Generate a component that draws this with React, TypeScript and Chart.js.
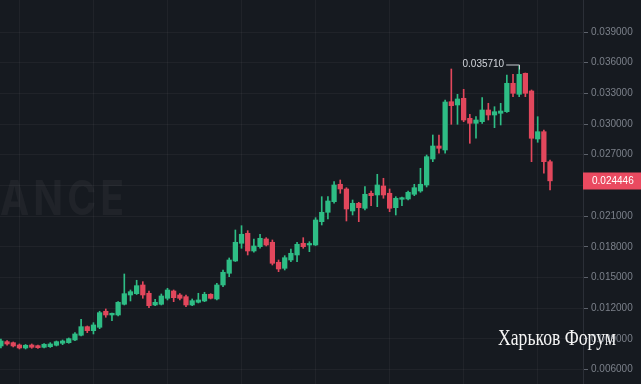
import { useEffect, useRef } from "react";
import { Chart, registerables } from "chart.js";

Chart.register(...registerables);

const opens = [
  0.008298, 0.008719, 0.008621, 0.008396, 0.008103, 0.008396, 0.008328, 0.008171, 0.00823, 0.008367,
  0.008562, 0.008621, 0.008885, 0.009345, 0.010186, 0.009794, 0.010127, 0.011692, 0.01133, 0.01133,
  0.012376, 0.013285, 0.013412, 0.014263, 0.013451, 0.012307, 0.012376, 0.012962, 0.013676, 0.013285,
  0.013119, 0.012307, 0.012571, 0.012698, 0.013353, 0.012894, 0.014263, 0.015407, 0.016609, 0.01834,
  0.019318, 0.017587, 0.018008, 0.018761, 0.018438, 0.016482, 0.015895, 0.016707, 0.017196, 0.01834,
  0.018174, 0.018174, 0.020452, 0.021371, 0.022408, 0.02411, 0.02365, 0.021499, 0.022251, 0.021763,
  0.02323, 0.023064, 0.023943, 0.02323, 0.021821, 0.022642, 0.022672, 0.023132, 0.023455, 0.024041,
  0.026583, 0.027854, 0.027463, 0.032186, 0.031863, 0.032518, 0.030562, 0.030073, 0.03023, 0.031374,
  0.030885, 0.031051, 0.031208, 0.033985, 0.032909, 0.034963, 0.033232, 0.028539, 0.029252, 0.026319,
];
const highs = [
  0.008983, 0.008817, 0.008689, 0.008494, 0.008445, 0.008494, 0.008396, 0.008543, 0.008621, 0.008787,
  0.008885, 0.009081, 0.009599, 0.010909, 0.010254, 0.010577, 0.011692, 0.011917, 0.011525, 0.012649,
  0.015339, 0.013774, 0.014723, 0.014586, 0.013676, 0.012864, 0.013383, 0.01394, 0.013774, 0.013412,
  0.013285, 0.012894, 0.013451, 0.013549, 0.013412, 0.014429, 0.01573, 0.016903, 0.019641, 0.020061,
  0.019572, 0.018761, 0.01922, 0.018888, 0.018663, 0.016707, 0.017128, 0.017783, 0.018438, 0.018888,
  0.018497, 0.020843, 0.022897, 0.022897, 0.024364, 0.02453, 0.023777, 0.022574, 0.022349, 0.023875,
  0.023455, 0.025087, 0.024696, 0.02365, 0.022897, 0.02285, 0.023455, 0.02411, 0.025674, 0.026974,
  0.02893, 0.02893, 0.032352, 0.035383, 0.032909, 0.033398, 0.030953, 0.030719, 0.032577, 0.03203,
  0.031697, 0.03203, 0.034797, 0.034866, 0.03571, 0.034992, 0.03333, 0.030719, 0.029419, 0.026485,
];
const lows = [
  0.008103, 0.008367, 0.0082, 0.008005, 0.008005, 0.008073, 0.008054, 0.008103, 0.008152, 0.008298,
  0.008425, 0.008562, 0.008817, 0.009276, 0.009599, 0.009472, 0.00999, 0.011105, 0.010773, 0.011232,
  0.012307, 0.012698, 0.013334, 0.012962, 0.012043, 0.012239, 0.012307, 0.012796, 0.01263, 0.012796,
  0.012141, 0.012239, 0.012503, 0.01263, 0.012894, 0.012796, 0.014097, 0.015075, 0.01656, 0.017851,
  0.017196, 0.01746, 0.017851, 0.018076, 0.016218, 0.015563, 0.01573, 0.016541, 0.016541, 0.017851,
  0.017519, 0.018125, 0.020129, 0.020716, 0.022251, 0.02323, 0.02052, 0.021107, 0.020452, 0.021596,
  0.022016, 0.021919, 0.02274, 0.02143, 0.021107, 0.022016, 0.022574, 0.022995, 0.023328, 0.023845,
  0.026319, 0.02714, 0.02714, 0.029976, 0.029976, 0.03023, 0.028118, 0.028607, 0.030073, 0.030396,
  0.029643, 0.029908, 0.031149, 0.032675, 0.032675, 0.032675, 0.026319, 0.028216, 0.025185, 0.023552,
];
const closes = [
  0.008787, 0.008494, 0.008298, 0.008103, 0.008367, 0.008171, 0.008132, 0.008465, 0.008494, 0.008719,
  0.008787, 0.009012, 0.009472, 0.010186, 0.009794, 0.010352, 0.011555, 0.01133, 0.011496, 0.012571,
  0.013412, 0.013608, 0.014195, 0.013285, 0.012239, 0.012571, 0.013187, 0.013774, 0.013021, 0.012962,
  0.012307, 0.012728, 0.012796, 0.013353, 0.012962, 0.014263, 0.015505, 0.016707, 0.018438, 0.01922,
  0.017587, 0.018076, 0.018829, 0.018174, 0.016384, 0.015827, 0.016932, 0.017362, 0.018243, 0.018008,
  0.018301, 0.020618, 0.021371, 0.022476, 0.024041, 0.02365, 0.021694, 0.022251, 0.021821, 0.023132,
  0.022995, 0.024041, 0.023064, 0.021763, 0.02274, 0.022799, 0.023328, 0.023777, 0.02411, 0.026808,
  0.027854, 0.027629, 0.032156, 0.031795, 0.03245, 0.030396, 0.030073, 0.030396, 0.031374, 0.030885,
  0.031208, 0.031276, 0.033985, 0.033007, 0.034866, 0.033007, 0.028607, 0.029252, 0.026319, 0.024446,
];

const yTicks = [0.006, 0.009, 0.012, 0.015, 0.018, 0.021, 0.024, 0.027, 0.03, 0.033, 0.036, 0.039];
const xGridIdx = [9, 21, 33, 45, 57, 69, 81, 93];
const highLabel = "0.035710";
const watermarkText = "BINANCE";
const forumText = "Харьков Форум";

const BG = "#161a20";
const UP = "#2ebd85";
const DOWN = "#e2475c";

export default function App() {
  const ref = useRef<HTMLCanvasElement | null>(null);

  useEffect(() => {
    const canvas = ref.current;
    if (!canvas) return;
    const idx = closes.map((_, i) => i);
    const colors = idx.map((i) => (closes[i] >= opens[i] ? UP : DOWN));
    const lastPrice = closes[closes.length - 1];
    let hiIdx = 0;
    highs.forEach((h, i) => {
      if (h > highs[hiIdx]) hiIdx = i;
    });

    const bgPlugin = {
      id: "bgPlugin",
      beforeDraw(chart: any) {
        const ctx = chart.ctx;
        ctx.save();
        ctx.fillStyle = BG;
        ctx.fillRect(0, 0, chart.width, chart.height);
        // faint watermark, partly cut at the left edge
        ctx.font = "700 48px Inter";
        (ctx as any).letterSpacing = "5px";
        const wAnce = ctx.measureText("ANCE").width;
        const sx = 128 / wAnce;
        ctx.translate(128, 201);
        ctx.scale(sx, 1);
        ctx.textAlign = "right";
        ctx.textBaseline = "middle";
        ctx.fillStyle = "rgba(255,255,255,0.045)";
        ctx.fillText(watermarkText, 0, 0);
        ctx.restore();
      },
    };

    const overlayPlugin = {
      id: "overlayPlugin",
      afterDraw(chart: any) {
        const ctx = chart.ctx;
        const xs = chart.scales.x;
        const ys = chart.scales.y;
        const area = chart.chartArea;
        ctx.save();
        // last price label
        const py = ys.getPixelForValue(lastPrice);
        ctx.fillStyle = "#ea4a60";
        ctx.fillRect(area.right, Math.round(py) - 8.5, chart.width - area.right, 17);
        ctx.fillStyle = "#ffffff";
        ctx.font = "10px 'Liberation Sans'";
        ctx.textAlign = "left";
        ctx.textBaseline = "middle";
        ctx.fillText(lastPrice.toFixed(6), area.right + 9, Math.round(py) + 0.5);

        // high marker
        const hx = xs.getPixelForValue(hiIdx);
        const hy = ys.getPixelForValue(highs[hiIdx]);
        const ty = Math.round(hy) - 1.5;
        ctx.fillStyle = "#d3d6dc";
        ctx.textAlign = "right";
        ctx.fillText(highLabel, hx - 15, ty);
        ctx.strokeStyle = "#c8cbd1";
        ctx.lineWidth = 1;
        ctx.beginPath();
        ctx.moveTo(hx - 13, ty + 0.5);
        ctx.lineTo(Math.round(hx) + 0.5, ty + 0.5);
        ctx.lineTo(Math.round(hx) + 0.5, ty + 5);
        ctx.stroke();

        // forum watermark
        ctx.font = "24px 'Liberation Serif'";
        ctx.textAlign = "left";
        ctx.textBaseline = "alphabetic";
        const w = ctx.measureText(forumText).width;
        ctx.translate(498, 345);
        ctx.scale(118 / w, 1);
        ctx.fillStyle = "#f4f4f4";
        ctx.fillText(forumText, 0, 0);
        ctx.restore();
      },
    };

    const chart = new Chart(canvas, {
      type: "bar",
      data: {
        datasets: [
          {
            data: idx.map((i) => ({ x: i, y: [lows[i], highs[i]] })) as any,
            backgroundColor: colors,
            barThickness: 1,
            grouped: false,
            borderWidth: 0,
            order: 2,
          } as any,
          {
            data: idx.map((i) => ({ x: i, y: [opens[i], closes[i]] })) as any,
            backgroundColor: colors,
            barThickness: 4.6,
            minBarLength: 1.5,
            grouped: false,
            borderWidth: 0,
            order: 1,
          } as any,
        ],
      },
      options: {
        animation: false,
        responsive: false,
        devicePixelRatio: 1,
        layout: { padding: 0 },
        plugins: { legend: { display: false }, tooltip: { enabled: false } },
        scales: {
          x: {
            type: "linear",
            min: -0.146,
            max: 94.343,
            offset: false,
            ticks: { display: false },
            grid: { color: "rgba(255,255,255,0.045)", drawTicks: false },
            border: { display: false },
            afterBuildTicks(scale: any) {
              scale.ticks = xGridIdx.map((v) => ({ value: v }));
            },
            afterFit(scale: any) {
              scale.height = 0;
              scale.paddingLeft = 0;
              scale.paddingRight = 0;
            },
          },
          y: {
            type: "linear",
            position: "right",
            min: 0.00458,
            max: 0.04213,
            ticks: {
              autoSkip: false,
              padding: 3,
              color: "#7b808a",
              font: { family: "'Liberation Sans'", size: 10 },
              callback: (v: any) => Number(v).toFixed(6),
            },
            grid: {
              color: "rgba(255,255,255,0.045)",
              tickColor: "#5d626b",
              tickLength: 5,
            },
            border: { display: true, color: "#2b2f37" },
            afterBuildTicks(scale: any) {
              scale.ticks = yTicks.map((v) => ({ value: v }));
            },
            afterFit(scale: any) {
              scale.width = 58;
              scale.paddingTop = 0;
              scale.paddingBottom = 0;
            },
          },
        },
      } as any,
      plugins: [bgPlugin, overlayPlugin],
    });
    return () => chart.destroy();
  }, []);

  return (
    <div style={{ position: "fixed", left: 0, top: 0, width: 641, height: 384, background: BG }}>
      <canvas ref={ref} width={641} height={384} style={{ display: "block" }} />
    </div>
  );
}
